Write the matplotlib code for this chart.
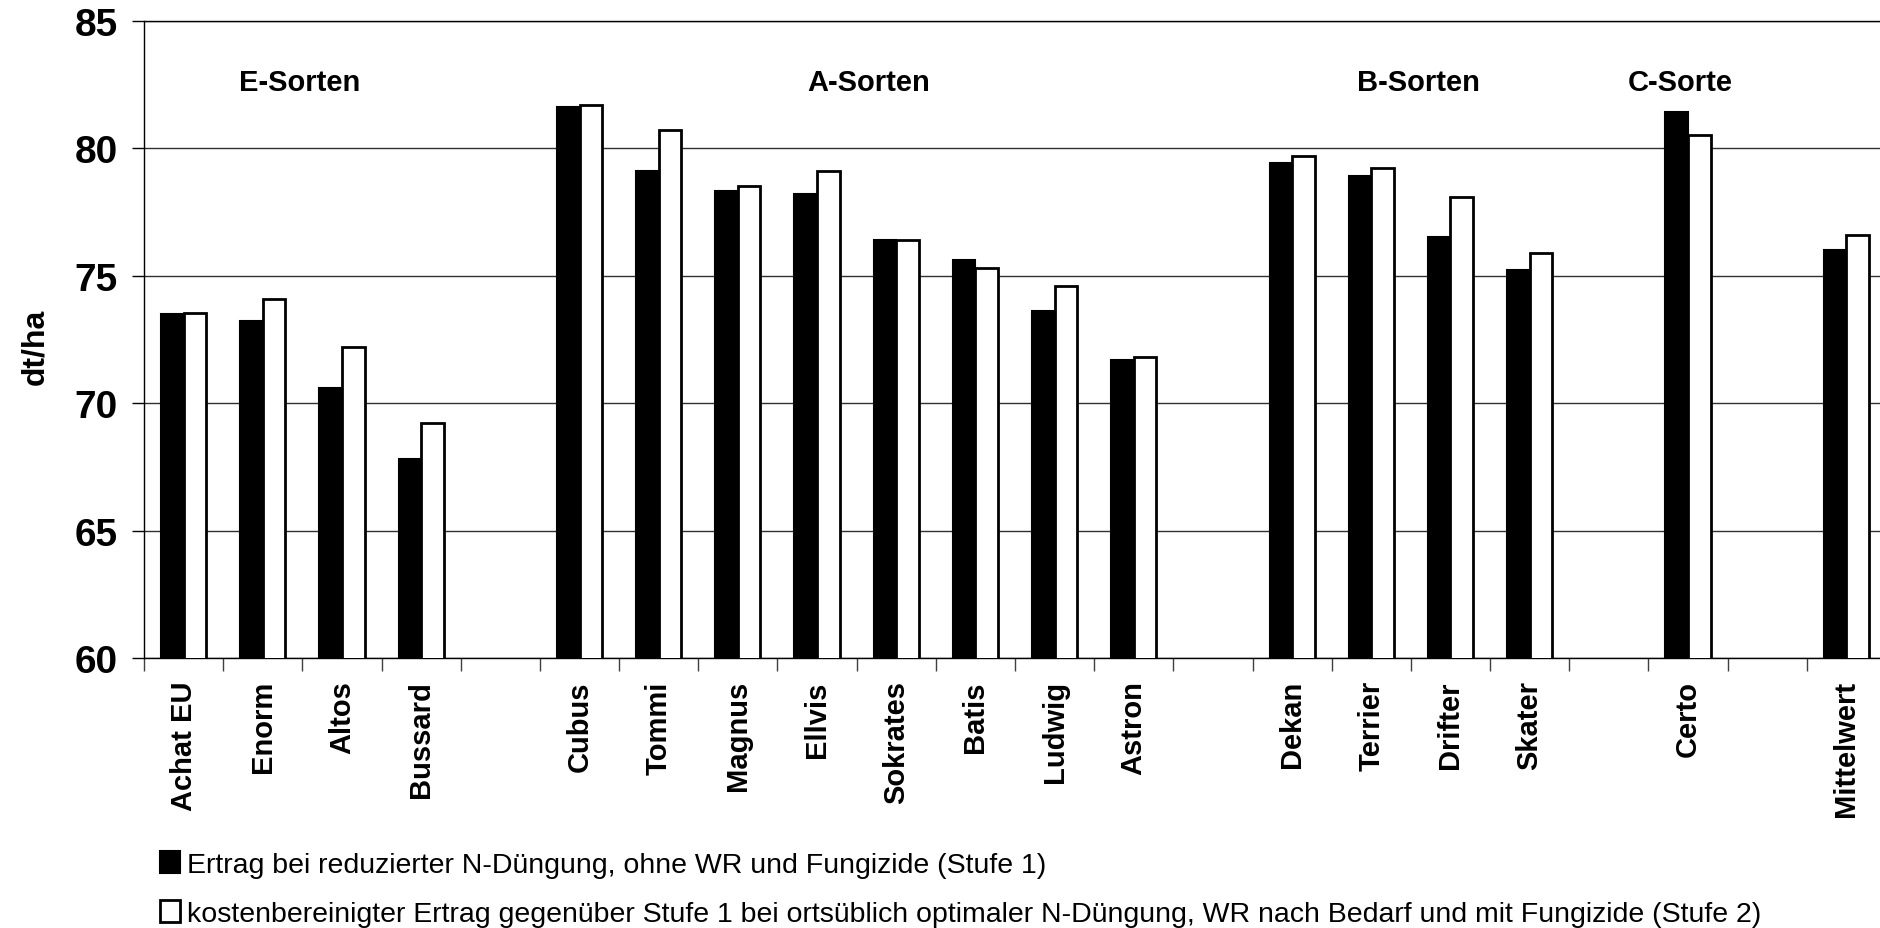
import matplotlib
matplotlib.use("Agg")
import matplotlib.pyplot as plt
import numpy as np

plt.rcParams['font.family'] = ['Liberation Sans', 'DejaVu Sans']

categories = ["Achat EU", "Enorm", "Altos", "Bussard", "",
              "Cubus", "Tommi", "Magnus", "Ellvis", "Sokrates", "Batis", "Ludwig", "Astron", "",
              "Dekan", "Terrier", "Drifter", "Skater", "",
              "Certo", "",
              "Mittelwert"]
stufe1 = [73.5, 73.2, 70.6, 67.8, np.nan,
          81.6, 79.1, 78.3, 78.2, 76.4, 75.6, 73.6, 71.7, np.nan,
          79.4, 78.9, 76.5, 75.2, np.nan,
          81.4, np.nan,
          76.0]
stufe2 = [73.55, 74.1, 72.2, 69.2, np.nan,
          81.7, 80.7, 78.5, 79.1, 76.4, 75.3, 74.6, 71.8, np.nan,
          79.7, 79.2, 78.1, 75.9, np.nan,
          80.5, np.nan,
          76.6]
group_labels = ["E-Sorten", "A-Sorten", "B-Sorten", "C-Sorte"]
group_pos = [1.46, 8.65, 15.6, 18.9]
legend_labels = ["Ertrag bei reduzierter N-Düngung, ohne WR und Fungizide (Stufe 1)",
                 "kostenbereinigter Ertrag gegenüber Stufe 1 bei ortsüblich optimaler N-Düngung, WR nach Bedarf und mit Fungizide (Stufe 2)"]
yticks = [60, 65, 70, 75, 80, 85]

W, H = 1881, 929
fig = plt.figure(figsize=(W / 100, H / 100), dpi=100)
left, right, top, bottom = 144, 1886, 21.6, 659
ax = fig.add_axes([left / W, 1 - bottom / H, (right - left) / W, (bottom - top) / H])

x = np.arange(len(categories))
bw = 0.285
b1 = ax.bar(x - bw / 2, stufe1, bw, color='black', edgecolor='black', linewidth=1.5, zorder=3)
b2 = ax.bar(x + bw / 2, stufe2, bw, color='white', edgecolor='black', linewidth=2.0, zorder=3)

ax.set_ylim(60, 85)
ax.set_xlim(-0.5, len(categories) - 0.5)
ax.set_yticks(yticks)
ax.set_yticklabels([str(v) for v in yticks], fontsize=28, fontweight='bold')
ax.yaxis.grid(True, color='#303030', linewidth=1.0, zorder=0)
ax.tick_params(axis='y', length=9, width=1, pad=10, color='black')

ax.set_xticks(x)
ax.set_xticklabels(categories, rotation=90, fontsize=21, fontweight='bold')
ax.tick_params(axis='x', which='major', length=0, pad=16)
ax.set_xticks(np.arange(len(categories) + 1) - 0.5, minor=True)
ax.tick_params(axis='x', which='minor', length=9, width=1, color='#404040')

for s in ax.spines.values():
    s.set_color('black')
    s.set_linewidth(1.0)

ax.set_ylabel("dt/ha", fontsize=23, fontweight='bold')
ax.yaxis.set_label_coords((50 - left) / (right - left), 0.49)

for lab, pos in zip(group_labels, group_pos):
    ax.text(pos, 82.6, lab, ha='center', va='center', fontsize=21, fontweight='bold')

fig.legend([b1, b2], legend_labels, loc='upper left', bbox_to_anchor=(146 / W, 1 - 838 / H),
           frameon=False, fontsize=20.5, handlelength=0.7, handleheight=0.8,
           handletextpad=0.25, labelspacing=0.78, borderpad=0)

fig.savefig("out.png", dpi=100)
